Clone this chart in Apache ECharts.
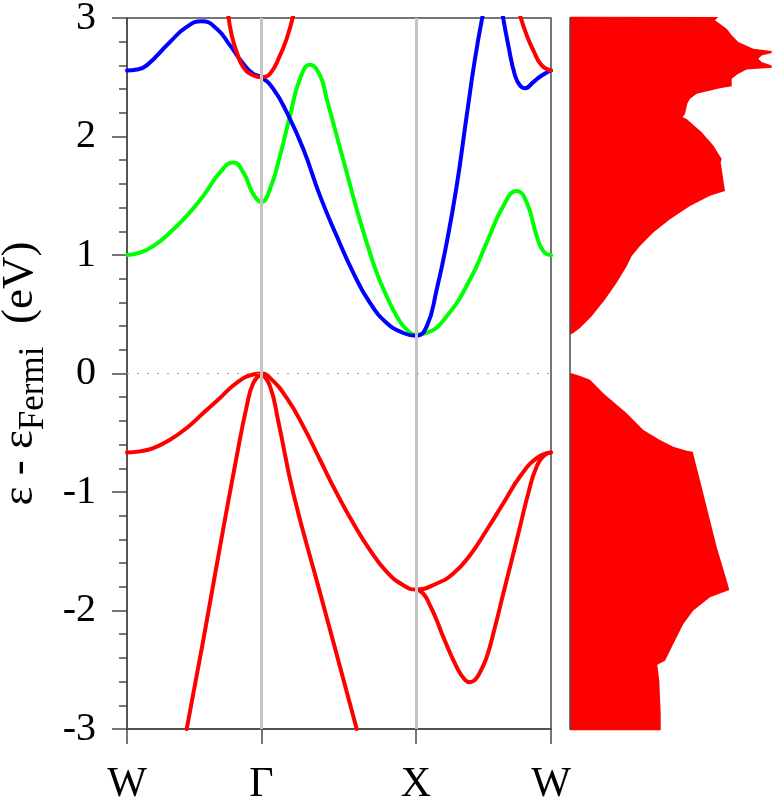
<!DOCTYPE html>
<html><head><meta charset="utf-8">
<script src="https://cdn.jsdelivr.net/npm/echarts@6/dist/echarts.min.js"></script>
<style>html,body{margin:0;padding:0;background:#fff}#c{width:772px;height:805px}</style>
</head><body><div id="c"></div>
<script>
// k-path positions (arbitrary path units) and labels
const kTickPos = [0, 134.5, 289, 424];
const kTickLabels = ['W', 'Γ', 'X', 'W'];

// bands: [k, E (eV)]
const redA = [[0,-0.666],[13,-0.657],[26.3,-0.63],[43,-0.559],[59.7,-0.46],[76.3,-0.333],[93,-0.206],[109.7,-0.079],[126.3,-0.008],[134.5,0],
  [143,-0.037],[159.7,-0.206],[176.3,-0.446],[193,-0.728],[209.7,-1.01],[226.3,-1.264],[243,-1.49],[259.7,-1.674],[276.3,-1.787],[289,-1.823],
  [309.7,-1.772],[326.3,-1.688],[343,-1.533],[359.7,-1.321],[376.3,-1.095],[393,-0.869],[409.7,-0.714],[424,-0.666]];
const redB = [[59.7,-3.0],[76.3,-2.25],[93,-1.462],[109.7,-0.7],[119.7,-0.277],[126.3,-0.08],[134.5,0]];
const redC = [[134.5,0],[143,-0.107],[151.3,-0.404],[166.3,-1.01],[193,-1.849],[209.7,-2.371],[229.7,-3.0]];
const redD = [[289,-1.823],[296.3,-1.857],[303,-1.956],[309.7,-2.083],[316.3,-2.224],[329.7,-2.478],[338,-2.585],[343,-2.605],[348,-2.585],
  [353,-2.52],[359.7,-2.393],[368,-2.139],[376.3,-1.857],[384.7,-1.575],[393,-1.293],[401.3,-1.01],[409.7,-0.785],[418,-0.686],[424,-0.666]];
const green = [[0,1.0],[13,1.02],[26.3,1.075],[43,1.189],[59.7,1.33],[76.3,1.499],[93,1.697],[106.3,1.781],[116.3,1.697],[126.3,1.513],[134.5,1.448],
  [143,1.556],[153,1.837],[163,2.176],[173,2.487],[183,2.606],[193,2.515],[199.7,2.318],[209.7,2.007],[219.7,1.697],[229.7,1.386],
  [239.7,1.104],[249.7,0.85],[259.7,0.652],[269.7,0.483],[279.7,0.37],[289,0.328],[299.7,0.342],[319.7,0.483],[343,0.793],[359.7,1.104],
  [376.3,1.414],[389.7,1.541],[399.7,1.443],[409.7,1.16],[416.3,1.033],[424,0.997]];
const blue = [[0,2.557],[10,2.565],[19.7,2.6],[43,2.798],[59.7,2.925],[74.7,2.972],[89.7,2.91],[103,2.769],[116.3,2.614],[126.3,2.529],[134.5,2.501],
  [146.3,2.402],[159.7,2.205],[176.3,1.894],[193,1.499],[209.7,1.16],[226.3,0.85],[243,0.596],[259.7,0.427],[276.3,0.342],[289,0.319],
  [299.7,0.398],[309.7,0.709],[319.7,1.104],[329.7,1.583],[339.7,2.176],[348,2.656],[355.7,3.023]];
const blueW = [[375.7,3.023],[381.3,2.769],[388,2.515],[393,2.43],[398,2.408],[406.3,2.459],[414.7,2.515],[424,2.557]];
const redTopG = [[101.3,3.023],[104.7,2.854],[109.7,2.713],[116.3,2.586],[126.3,2.515],[134.5,2.501],[143,2.529],[153,2.684],[159.7,2.825],[166.3,3.023]];
const redTopW = [[393,3.023],[399.7,2.854],[406.3,2.727],[414.7,2.6],[424,2.557]];

// density of states outline: [E (eV), DOS]
const dosCond = [[3.009,148.3],[2.981,145],[2.91,156.7],[2.854,161.7],[2.797,168.3],[2.741,183.3],[2.721,201.7],[2.704,201.7],[2.684,191.7],
  [2.656,188.3],[2.628,191.7],[2.6,201.7],[2.58,201.7],[2.566,176.7],[2.53,168.3],[2.487,161.7],[2.425,161.7],[2.408,150],[2.36,126.7],
  [2.318,120],[2.276,117.3],[2.191,115],[2.163,112.7],[2.148,116.7],[2.035,131.7],[1.923,143.3],[1.81,151.7],[1.782,150.7],[1.541,155],
  [1.499,140],[1.414,120],[1.301,100],[1.189,83.3],[1.075,70],[0.991,61.7],[0.906,56.7],[0.765,46.7],[0.624,35],[0.483,21.7],[0.384,10],[0.342,3.3],[0.328,0]];
const dosVal = [[0.003,1.7],[-0.025,11.7],[-0.053,20],[-0.166,33.3],[-0.335,56.7],[-0.477,73.3],[-0.561,90],[-0.618,103.3],[-0.652,116.7],[-0.66,122.7],
  [-0.9,130],[-1.182,138.3],[-1.465,146.7],[-1.747,156.7],[-1.826,159.3],[-1.888,140],[-2.001,123.3],[-2.114,113.3],[-2.283,103.3],[-2.424,95],
  [-2.458,87.3],[-2.593,89.3],[-2.876,90.7],[-3.011,90.7]];

const FONT = 'Liberation Serif';
const FRAME = '#4a4a4a';
const chart = echarts.init(document.getElementById('c'));

function band(data, color) {
  return {type: 'line', xAxisIndex: 0, yAxisIndex: 0, data: data, smooth: 0.5, symbol: 'none',
    lineStyle: {color: color, width: 4, cap: 'round', join: 'round'}, z: 3, silent: true};
}

const option = {
  animation: false,
  grid: [
    {left: 127, top: 18, width: 424, height: 711, show: true, borderColor: FRAME, borderWidth: 1.5, backgroundColor: 'transparent',
      containLabel: false, outerBoundsMode: 'none'},
    {left: 570, top: 18, width: 202, height: 711, containLabel: false, outerBoundsMode: 'none'}
  ],
  xAxis: [
    {type: 'value', gridIndex: 0, min: 0, max: 424,
      axisLine: {show: true, onZero: false, lineStyle: {color: FRAME, width: 1.5}},
      axisTick: {show: true, customValues: kTickPos, length: 15, lineStyle: {color: FRAME, width: 1.5}},
      axisLabel: {customValues: kTickPos, fontFamily: FONT, fontSize: 42, color: '#000', margin: 35,
        formatter: function (v) { for (let i = 0; i < kTickPos.length; i++) { if (Math.abs(kTickPos[i] - v) < 1) return kTickLabels[i]; } return ''; }},
      splitLine: {show: false}},
    {type: 'value', gridIndex: 1, min: 0, max: 202, show: false}
  ],
  yAxis: [
    {type: 'value', gridIndex: 0, min: -3, max: 3, interval: 1,
      axisLine: {show: true, onZero: false, lineStyle: {color: FRAME, width: 1.5}},
      axisTick: {show: true, length: 15, lineStyle: {color: FRAME, width: 1.5}},
      minorTick: {show: true, splitNumber: 5, length: 8, lineStyle: {color: FRAME, width: 1.5}},
      axisLabel: {fontFamily: FONT, fontSize: 40, color: '#000', margin: 31},
      splitLine: {show: false},
      name: '{e|ε - ε}{s|Fermi}{e|  (eV)}', nameLocation: 'middle', nameRotate: 90, nameGap: 71,
      nameTextStyle: {rich: {
        e: {fontFamily: FONT, fontSize: 45, color: '#000'},
        s: {fontFamily: FONT, fontSize: 35, color: '#000', padding: [28, 0, 0, 0]}
      }}},
    {type: 'value', gridIndex: 1, min: -3, max: 3, z: 10,
      axisLine: {show: true, onZero: false, lineStyle: {color: FRAME, width: 1.5}},
      axisTick: {show: false}, axisLabel: {show: false}, splitLine: {show: false}}
  ],
  series: [
    {type: 'line', xAxisIndex: 0, yAxisIndex: 0, data: [], z: 1, silent: true,
      markLine: {silent: true, symbol: ['none', 'none'], label: {show: false}, animation: false,
        data: [
          {xAxis: kTickPos[1], lineStyle: {color: '#c4c4c4', width: 3, type: 'solid'}},
          {xAxis: kTickPos[2], lineStyle: {color: '#c4c4c4', width: 3, type: 'solid'}},
          {yAxis: 0, lineStyle: {color: '#aaaaaa', width: 1.2, type: [2, 8]}}
        ]}},
    band(redB, '#ff0000'), band(redC, '#ff0000'), band(redD, '#ff0000'), band(redA, '#ff0000'),
    band(green, '#00ff00'), band(blue, '#0000ff'), band(blueW, '#0000ff'),
    band(redTopG, '#ff0000'), band(redTopW, '#ff0000'),
    {type: 'custom', xAxisIndex: 1, yAxisIndex: 1, data: [[0, 0]], silent: true, z: 2,
      renderItem: function (params, api) {
        const pts = arr => arr.map(p => api.coord([p[1], p[0]]));
        return {type: 'group', children: [
          {type: 'polygon', shape: {points: pts([[3.011, 0]].concat(dosCond))}, style: {fill: '#ff0000'}},
          {type: 'polygon', shape: {points: pts([[0.003, 0]].concat(dosVal, [[-3.011, 0]]))}, style: {fill: '#ff0000'}}
        ]};
      }}
  ]
};
chart.setOption(option);
</script></body></html>
